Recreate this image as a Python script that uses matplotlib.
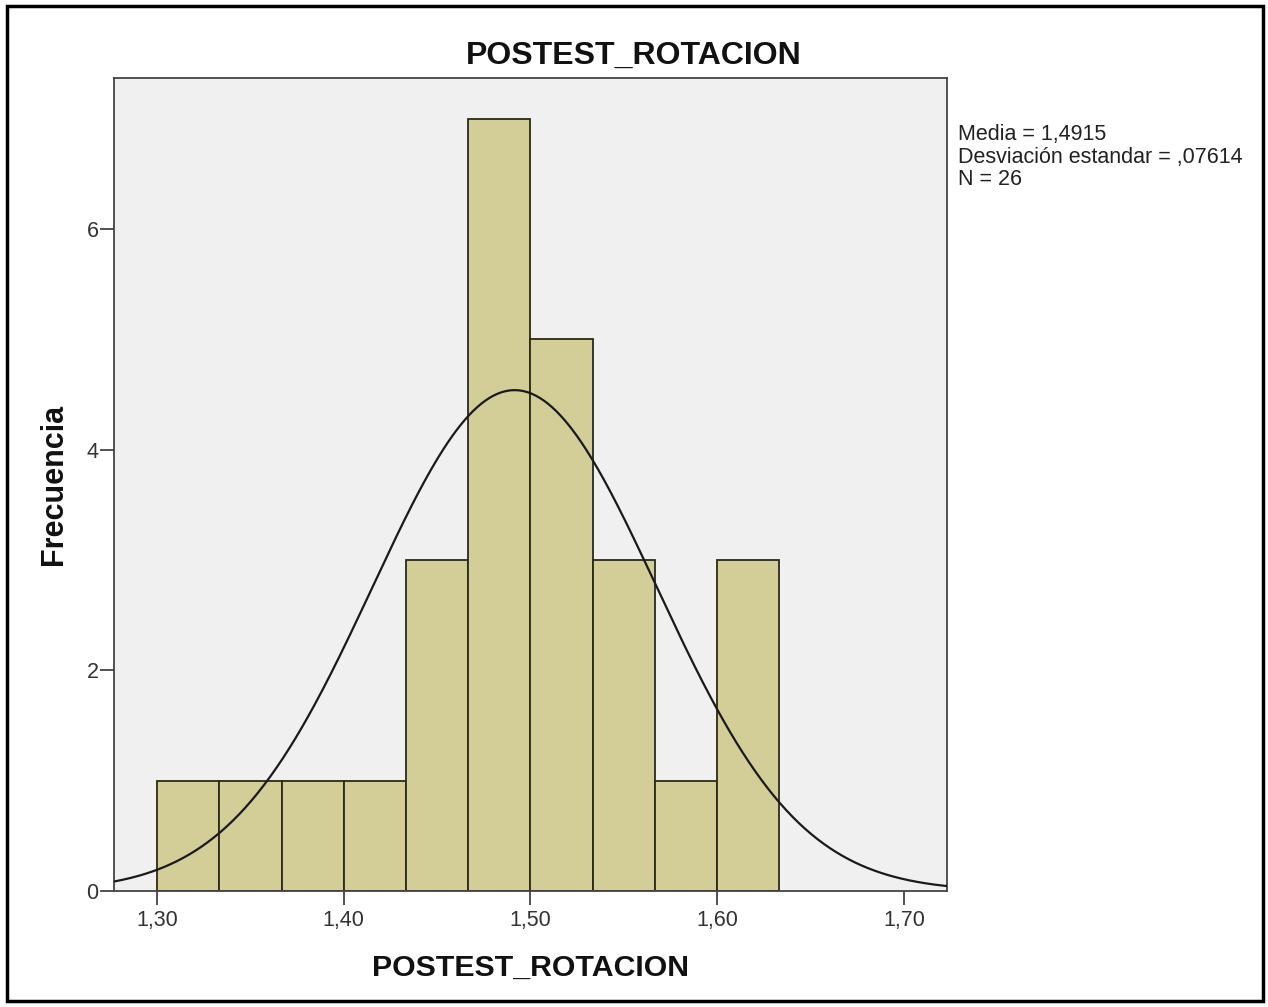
import numpy as np
import matplotlib
matplotlib.use("Agg")
import matplotlib.pyplot as plt
from matplotlib.patches import Rectangle

plt.rcParams['font.family'] = ['Liberation Sans', 'DejaVu Sans']

bin_edges = [1.30, 1.3333, 1.3667, 1.40, 1.4333, 1.4667, 1.50, 1.5333, 1.5667, 1.60, 1.6333]
counts = [1, 1, 1, 1, 3, 7, 5, 3, 1, 3]
mean = 1.4915
std = 0.07614
n = 26
xticks = [1.30, 1.40, 1.50, 1.60, 1.70]
xticklabels = ["1,30", "1,40", "1,50", "1,60", "1,70"]
yticks = [0, 2, 4, 6]

W, H = 1268, 1007
fig = plt.figure(figsize=(W/100, H/100), dpi=100)
ax = fig.add_axes([114/W, 1-891/H, (947-114)/W, (891-78)/H])
ax.set_facecolor('#F0F0F0')

widths = np.diff(bin_edges)
ax.bar(bin_edges[:-1], counts, width=widths, align='edge', color='#D3CE98',
       edgecolor='#2a2a1a', linewidth=1.3, zorder=2)

x0, x1 = 1.277, 1.723
xs = np.linspace(x0, x1, 400)
bw = (bin_edges[-1] - bin_edges[0]) / len(counts)
ys = n * bw * np.exp(-0.5 * ((xs - mean) / std) ** 2) / (std * np.sqrt(2 * np.pi))
ax.plot(xs, ys, color='#1a1a1a', linewidth=1.6, zorder=3)

ax.set_xlim(x0, x1)
ax.set_ylim(0, 7.37)
ax.set_xticks(xticks)
ax.set_xticklabels(xticklabels)
ax.set_yticks(yticks)
ax.tick_params(axis='both', direction='out', length=10, width=1.2, colors='#333333',
               labelsize=15.5, labelcolor='#333333')
ax.tick_params(axis='x', pad=4)
ax.tick_params(axis='y', pad=1)
for s in ax.spines.values():
    s.set_color('#444444')
    s.set_linewidth(1.3)

ax.set_title("POSTEST_ROTACION", fontsize=23, fontweight='bold', pad=10, color='#111111',
             x=(634-114)/(947-114))
ax.set_xlabel("POSTEST_ROTACION", fontsize=21.8, fontweight='bold', labelpad=16, color='#111111')
ax.set_ylabel("Frecuencia", fontsize=22, fontweight='bold', labelpad=13, color='#111111')

fig.text(958/W, 1-124/H,
         "Media = 1,4915\nDesviación estandar = ,07614\nN = 26",
         fontsize=15.5, va='top', ha='left', color='#222222', linespacing=1.1)

fig.patches.append(Rectangle((7/W, 6/H), (1263-7)/W, (1001-6)/H, transform=fig.transFigure,
                             fill=False, edgecolor='black', linewidth=2.5))

fig.savefig("out.png", dpi=100, facecolor='white')
